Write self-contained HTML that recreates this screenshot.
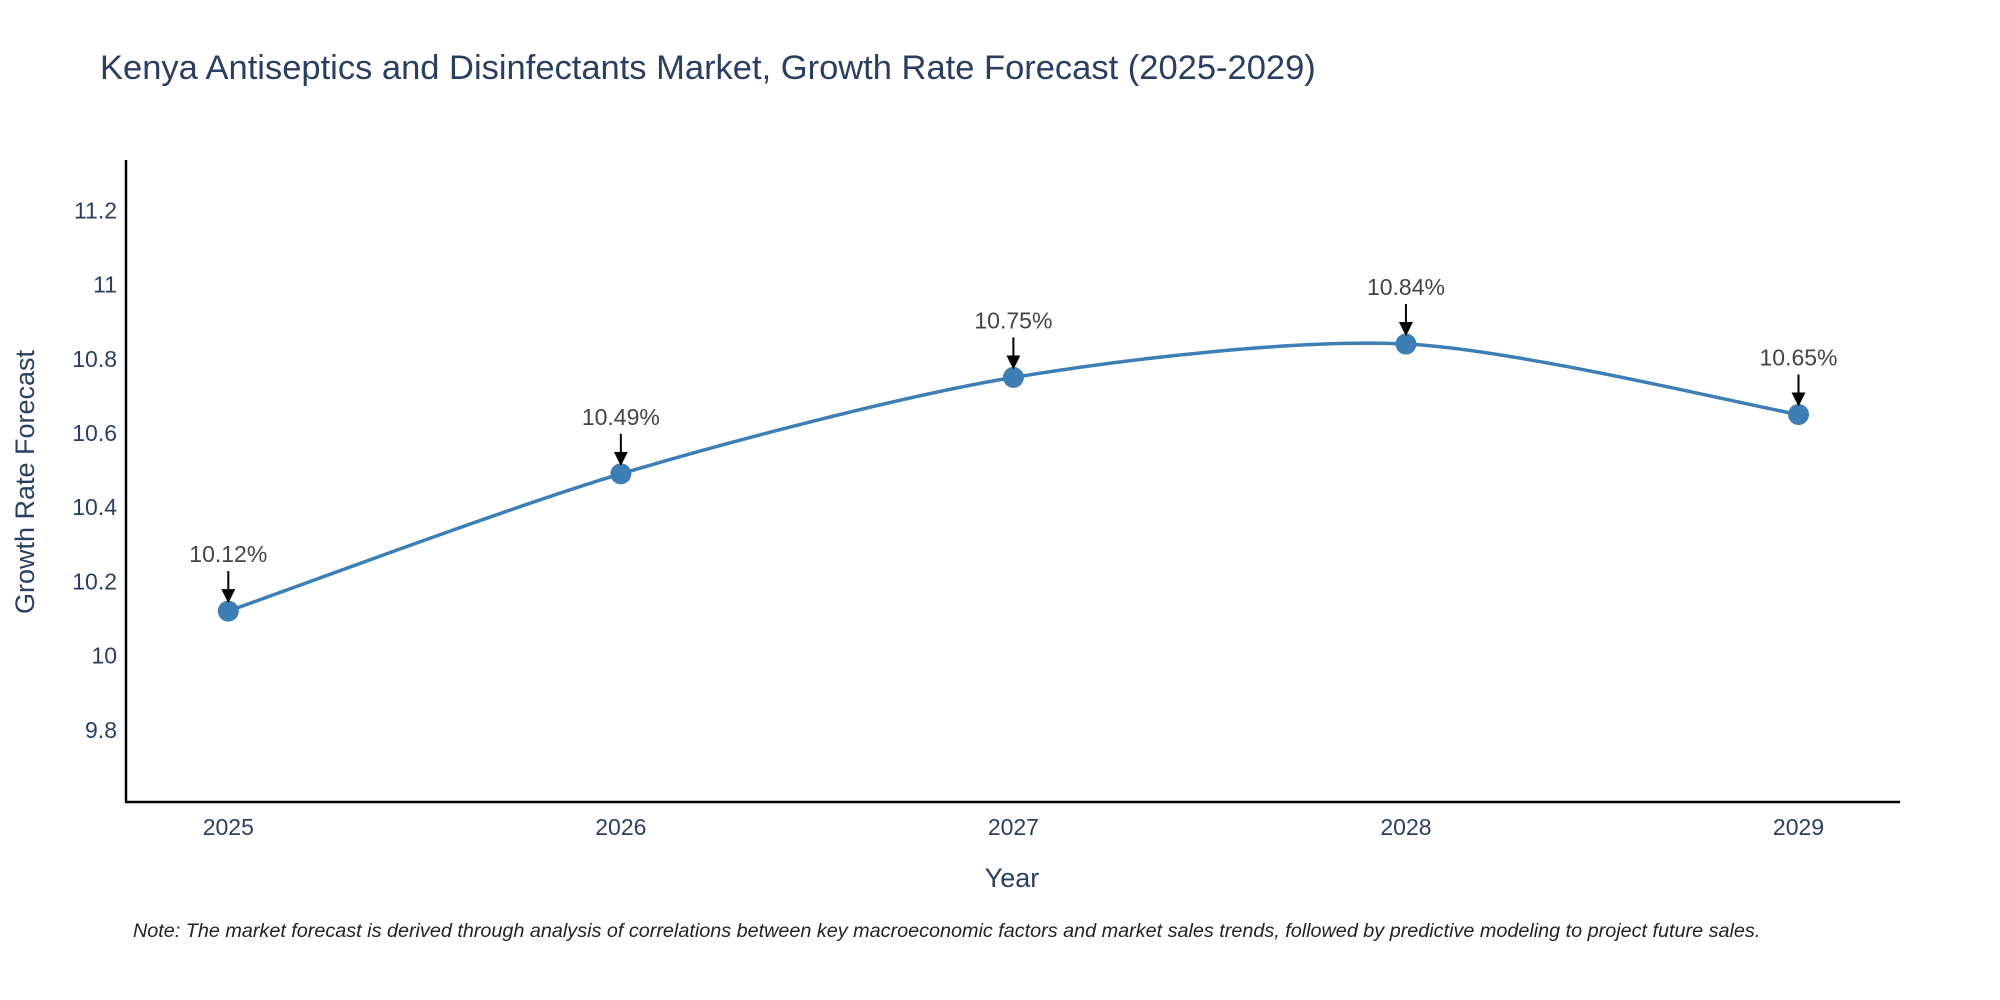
<!DOCTYPE html>
<html><head><meta charset="utf-8"><style>
body{margin:0;background:#fff;}
svg{display:block;font-family:"Liberation Sans",Arial,sans-serif;}
</style></head><body>
<svg id="chart" width="2000" height="1000">
<text x="100" y="79" font-size="34.5" fill="#2a3f5f">Kenya Antiseptics and Disinfectants Market, Growth Rate Forecast (2025-2029)</text>
<g id="yticks"></g>
<g id="xticks"></g>
<line x1="126" y1="160" x2="126" y2="802" stroke="#000" stroke-width="2.5"/>
<line x1="125" y1="802" x2="1900" y2="802" stroke="#000" stroke-width="2.5"/>
<path id="line" fill="none" stroke="#3d7fb5" stroke-width="3.5"/>
<g id="points"></g>
<text x="1012" y="887" font-size="27" fill="#2a3f5f" text-anchor="middle">Year</text>
<text transform="translate(34,482) rotate(-90)" font-size="27" fill="#2a3f5f" text-anchor="middle">Growth Rate Forecast</text>
<text x="133" y="937" font-size="19.8" font-style="italic" fill="#222">Note: The market forecast is derived through analysis of correlations between key macroeconomic factors and market sales trends, followed by predictive modeling to project future sales.</text>
<defs><marker id="ah" markerWidth="7" markerHeight="7" refX="6" refY="3.5" orient="auto" markerUnits="strokeWidth"><path d="M0,0 L7,3.5 L0,7 z" fill="#000"/></marker></defs>
</svg>
<script>
const years=["2025","2026","2027","2028","2029"];
const values=[10.12,10.49,10.75,10.84,10.65];
const labels=["10.12%","10.49%","10.75%","10.84%","10.65%"];
const yTicks=[9.8,10,10.2,10.4,10.6,10.8,11,11.2];
const yTickLabels=["9.8","10","10.2","10.4","10.6","10.8","11","11.2"];
const NS="http://www.w3.org/2000/svg";
function xs(i){return 228.3+i*(1798.5-228.3)/4;}
function ys(v){return 655.6-(v-10)*(655.6-210.5)/1.2;}
const svg=document.getElementById('chart');
function mk(tag,attrs,parent){const e=document.createElementNS(NS,tag);for(const k in attrs)e.setAttribute(k,attrs[k]);parent.appendChild(e);return e;}
const yg=document.getElementById('yticks');
yTicks.forEach((t,i)=>{const e=mk('text',{x:117,y:ys(t)+8,'font-size':23,fill:'#2a3f5f','text-anchor':'end'},yg);e.textContent=yTickLabels[i];

});
const xg=document.getElementById('xticks');
years.forEach((y,i)=>{const e=mk('text',{x:xs(i),y:835,'font-size':23,fill:'#2a3f5f','text-anchor':'middle'},xg);e.textContent=y;

});
const P=values.map((v,i)=>[xs(i),ys(v)]);
let d=`M${P[0][0]},${P[0][1]}`;
for(let i=0;i<P.length-1;i++){const p0=P[Math.max(0,i-1)],p1=P[i],p2=P[i+1],p3=P[Math.min(P.length-1,i+2)];const t=0.28;
d+=` C${p1[0]+(p2[0]-p0[0])*t/2},${p1[1]+(p2[1]-p0[1])*t/2} ${p2[0]-(p3[0]-p1[0])*t/2},${p2[1]-(p3[1]-p1[1])*t/2} ${p2[0]},${p2[1]}`;}
document.getElementById('line').setAttribute('d',d);
const pg=document.getElementById('points');
P.forEach((p,i)=>{const c=mk('circle',{cx:p[0],cy:p[1],r:10.5,fill:'#3d7fb5'},pg);


const a=mk('line',{x1:p[0],y1:p[1]-40,x2:p[0],y2:p[1]-10,stroke:'#000','stroke-width':2,'marker-end':'url(#ah)'},pg);


const t=mk('text',{x:p[0],y:p[1]-49,'font-size':23,fill:'#444','text-anchor':'middle'},pg);t.textContent=labels[i];

});
</script>
</body></html>
